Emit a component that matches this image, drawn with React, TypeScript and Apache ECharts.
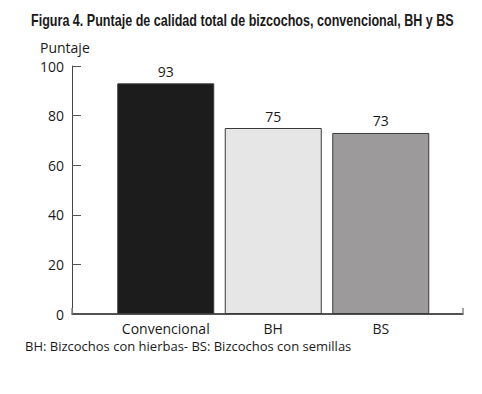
import React, { useEffect, useRef } from "react";
import * as echarts from "echarts";

const titleText = "Figura 4. Puntaje de calidad total de bizcochos, convencional, BH y BS";
const yAxisName = "Puntaje";
const categories = ["Convencional", "BH", "BS"];
const values = [93, 75, 73];
const barColors = ["#1c1c1c", "#e6e6e6", "#9c9a9a"];
const footnote = "BH: Bizcochos con hierbas- BS: Bizcochos con semillas";

const FONT = "'Open Sans', 'Noto Sans', sans-serif";
const TITLE_FONT_FAMILY = "'Liberation Sans', Arial, sans-serif";
const TITLE_SIZE = 16;
const TITLE_WIDTH = 423;

function measure(text: string, font: string): number {
  const c = document.createElement("canvas");
  const ctx = c.getContext("2d");
  if (!ctx) return TITLE_WIDTH;
  ctx.font = font;
  return ctx.measureText(text).width;
}

export default function App() {
  const ref = useRef<HTMLDivElement>(null);
  useEffect(() => {
    if (!ref.current) return;
    const chart = echarts.init(ref.current, undefined, { renderer: "svg" });
    const w = measure(titleText, `bold ${TITLE_SIZE}px ${TITLE_FONT_FAMILY}`);
    const sx = Math.min(1, TITLE_WIDTH / w);
    chart.setOption({
      animation: false,
      backgroundColor: "#ffffff",
      grid: [
        { left: 112, right: 47.5, top: 66, bottom: 80 },
        { left: 72, right: 19, top: 66, bottom: 80 },
      ],
      xAxis: [
        {
          type: "category",
          gridIndex: 0,
          data: categories,
          axisLine: { show: false },
          axisTick: { show: false },
          axisLabel: { color: "#1a1a1a", fontSize: 14, fontFamily: FONT, margin: 7, interval: 0 },
        },
        {
          type: "value",
          gridIndex: 1,
          min: 0,
          max: 1,
          interval: 1,
          axisLine: { show: true, lineStyle: { color: "#1a1a1a", width: 1.5 } },
          axisTick: { show: true, inside: true, length: 6, lineStyle: { color: "#888", width: 1.5 } },
          axisLabel: { show: false },
          splitLine: { show: false },
        },
      ],
      yAxis: [
        {
          type: "value",
          gridIndex: 0,
          min: 0,
          max: 100,
          interval: 20,
          offset: 40,
          name: yAxisName,
          nameLocation: "end",
          nameGap: 12,
          nameTextStyle: { color: "#1a1a1a", fontSize: 14, fontFamily: FONT, align: "left", padding: [0, 0, 0, -32] },
          axisLine: { show: true, lineStyle: { color: "#444", width: 1 } },
          axisTick: { show: true, inside: true, length: 9, lineStyle: { color: "#555", width: 1 } },
          axisLabel: { color: "#1a1a1a", fontSize: 14, fontFamily: FONT, margin: 8 },
          splitLine: { show: false },
        },
        {
          type: "value",
          gridIndex: 1,
          min: 0,
          max: 100,
          show: false,
        },
      ],
      series: [
        {
          type: "bar",
          xAxisIndex: 0,
          yAxisIndex: 0,
          barWidth: 97,
          data: values.map((v, i) => ({
            value: v,
            itemStyle: { color: barColors[i], borderColor: "#3a3a3a", borderWidth: 1 },
          })),
          label: {
            show: true,
            position: "top",
            distance: 5,
            color: "#1a1a1a",
            fontSize: 14,
            fontFamily: FONT,
          },
        },
      ],
      graphic: [
        {
          type: "text",
          x: 31,
          y: 20,
          scaleX: sx,
          style: {
            text: titleText,
            fontSize: TITLE_SIZE,
            fontWeight: "bold",
            fontFamily: TITLE_FONT_FAMILY,
            fill: "#1a1a1a",
            verticalAlign: "middle",
          },
        },
        {
          type: "text",
          left: 25,
          top: 339,
          style: { text: footnote, fontSize: 13, fontFamily: FONT, fill: "#1a1a1a" },
        },
      ],
    });
    return () => chart.dispose();
  }, []);
  return (
    <div
      ref={ref}
      style={{ position: "absolute", left: 0, top: 0, width: 482, height: 394 }}
    />
  );
}
